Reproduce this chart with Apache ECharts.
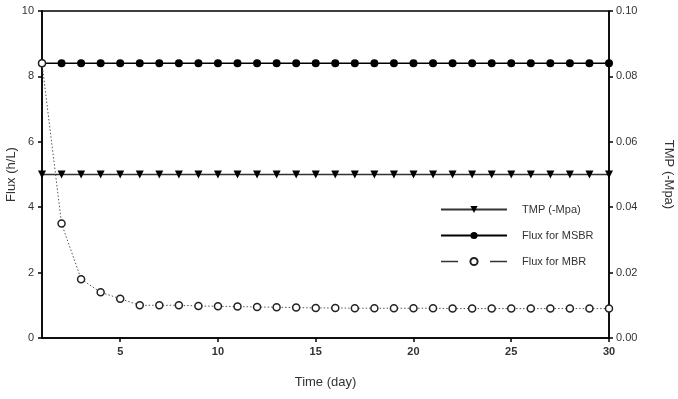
<!DOCTYPE html>
<html><head><meta charset="utf-8">
<script src="https://cdn.jsdelivr.net/npm/echarts@6/dist/echarts.min.js"></script>
<style>html,body{margin:0;padding:0;background:#fff}#c{width:678px;height:399px}</style>
</head><body><div id="c"></div>
<script>
const days = [1,2,3,4,5,6,7,8,9,10,11,12,13,14,15,16,17,18,19,20,21,22,23,24,25,26,27,28,29,30];
const tmp = [0.05,0.05,0.05,0.05,0.05,0.05,0.05,0.05,0.05,0.05,0.05,0.05,0.05,0.05,0.05,0.05,0.05,0.05,0.05,0.05,0.05,0.05,0.05,0.05,0.05,0.05,0.05,0.05,0.05,0.05];
const fluxMSBR = [8.4,8.4,8.4,8.4,8.4,8.4,8.4,8.4,8.4,8.4,8.4,8.4,8.4,8.4,8.4,8.4,8.4,8.4,8.4,8.4,8.4,8.4,8.4,8.4,8.4,8.4,8.4,8.4,8.4,8.4];
const fluxMBR = [8.4,3.5,1.8,1.4,1.2,1.0,1.0,1.0,0.98,0.97,0.96,0.95,0.94,0.93,0.92,0.92,0.91,0.91,0.91,0.91,0.91,0.9,0.9,0.9,0.9,0.9,0.9,0.9,0.9,0.9];
const xTicks = [5,10,15,20,25,30];
const names = ['TMP (-Mpa)','Flux for MSBR','Flux for MBR'];

const font = 'Liberation Sans, Arial, sans-serif';
const txt = '#333';
const chart = echarts.init(document.getElementById('c'));
const pairs = a => days.map((d,i)=>[d,a[i]]);
chart.setOption({
  animation:false,
  grid:{left:42,right:69,top:11,bottom:61,outerBoundsMode:'none',containLabel:false,show:true,borderColor:'#000',borderWidth:1.5,backgroundColor:'transparent'},
  legend:{
    left:435, top:199, orient:'vertical', itemWidth:66, itemHeight:9, itemGap:15,
    textStyle:{fontFamily:font,fontSize:11,color:txt,padding:[0,0,0,10]},
    data:[
      {name:names[0]},
      {name:names[1]},
      {name:names[2], lineStyle:{type:[17,32],color:'#333',width:1.6}}
    ]
  },
  xAxis:{
    type:'value', min:1, max:30,
    name:'Time (day)', nameLocation:'middle', nameGap:38,
    nameTextStyle:{fontFamily:font,fontSize:13,color:txt},
    axisLine:{show:true,lineStyle:{color:'#000',width:1.5}},
    axisTick:{show:true,customValues:xTicks,length:4,lineStyle:{color:'#000',width:1.5}},
    axisLabel:{customValues:xTicks,fontFamily:font,fontSize:11,fontWeight:'bold',color:txt,margin:8},
    splitLine:{show:false}
  },
  yAxis:[
    {type:'value',min:0,max:10,interval:2,position:'left',
     name:'Flux (h/L)',nameLocation:'middle',nameGap:24,nameMoveOverlap:false,
     nameTextStyle:{fontFamily:font,fontSize:13,color:txt},
     axisLine:{show:true,lineStyle:{color:'#000',width:1.5}},
     axisTick:{show:true,length:4,lineStyle:{color:'#000',width:1.5}},
     axisLabel:{fontFamily:font,fontSize:11,color:txt,margin:8},
     splitLine:{show:false}},
    {type:'value',min:0,max:0.1,interval:0.02,position:'right',
     name:'TMP (-Mpa)',nameLocation:'middle',nameGap:53,nameRotate:-90,
     nameTextStyle:{fontFamily:font,fontSize:13,color:txt},
     axisLine:{show:true,lineStyle:{color:'#000',width:1.5}},
     axisTick:{show:true,length:4,lineStyle:{color:'#000',width:1.5}},
     axisLabel:{fontFamily:font,fontSize:11,color:txt,margin:7,formatter:v=>v.toFixed(2)},
     splitLine:{show:false}}
  ],
  series:[
    {name:names[0],type:'line',yAxisIndex:1,data:pairs(tmp),symbol:'triangle',symbolRotate:180,symbolSize:8,
     lineStyle:{color:'#333',width:1.5},itemStyle:{color:'#000',borderWidth:0},z:2},
    {name:names[1],type:'line',yAxisIndex:0,data:pairs(fluxMSBR),symbol:'circle',symbolSize:8,
     lineStyle:{color:'#000',width:1.5},itemStyle:{color:'#000',borderWidth:0},z:3},
    {name:names[2],type:'line',yAxisIndex:0,data:pairs(fluxMBR),symbol:'circle',symbolSize:7,showAllSymbol:true,
     lineStyle:{color:'#555',width:1,type:[1.5,2]},itemStyle:{color:'#fff',borderColor:'#222',borderWidth:1.5},z:4}
  ]
});
</script></body></html>
